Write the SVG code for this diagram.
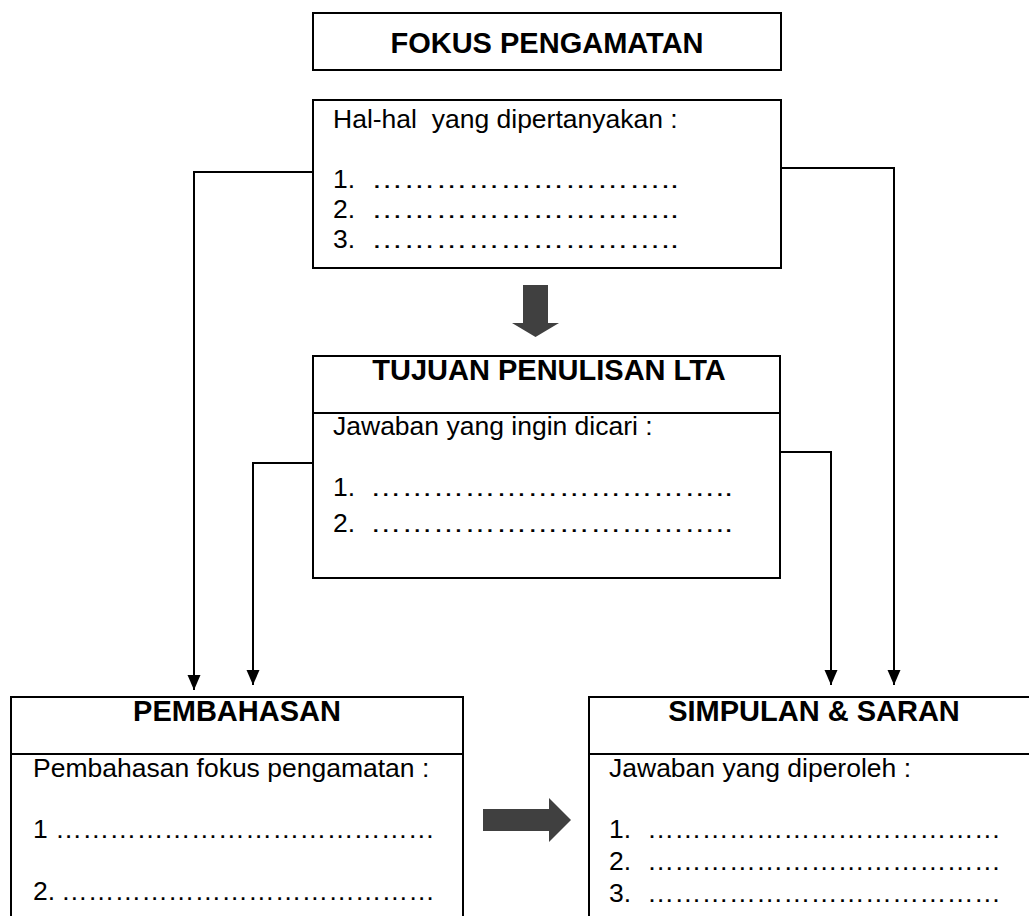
<svg xmlns="http://www.w3.org/2000/svg" width="1029" height="916" viewBox="0 0 1029 916">
<defs>
<style>
.box{fill:#fff;stroke:#000;stroke-width:2}
.sep{stroke:#000;stroke-width:2}
.t{font-family:"Liberation Sans",Arial,sans-serif;font-size:29px;font-weight:bold;fill:#000;text-anchor:middle}
.b{font-family:"Liberation Sans",Arial,sans-serif;font-size:26.5px;fill:#000}
.con{fill:none;stroke:#000;stroke-width:2}
.blk{fill:#404040}
</style>
<marker id="ah" markerUnits="userSpaceOnUse" markerWidth="16" markerHeight="14" refX="15" refY="7" orient="auto">
<path d="M0,0.5 L15,7 L0,13.5 z" fill="#000"/>
</marker>
</defs>
<rect width="1029" height="916" fill="#fff"/>

<g id="connectors">
<polyline class="con" points="313,172 194,172 194,690" marker-end="url(#ah)"/>
<polyline class="con" points="781,168 894,168 894,685" marker-end="url(#ah)"/>
<polyline class="con" points="313,463 253,463 253,685" marker-end="url(#ah)"/>
<polyline class="con" points="780,452 831,452 831,685" marker-end="url(#ah)"/>
<polygon class="blk" points="523,285 548,285 548,323 559,323 535.5,337 512,323 523,323"/>
<polygon class="blk" points="483,809 549,809 549,798 571,820 549,842 549,831 483,831"/>
</g>

<g id="fokus">
<rect class="box" x="313" y="13" width="468" height="57"/>
<text class="t" x="547" y="53">FOKUS PENGAMATAN</text>
</g>

<g id="hal">
<rect class="box" x="313" y="100" width="468" height="168"/>
<text class="b" x="333" y="128" xml:space="preserve">Hal-hal  yang dipertanyakan :</text>
<text class="b" x="333" y="188">1.<tspan x="371" textLength="308" lengthAdjust="spacingAndGlyphs">………………………..</tspan></text>
<text class="b" x="333" y="218">2.<tspan x="371" textLength="308" lengthAdjust="spacingAndGlyphs">………………………..</tspan></text>
<text class="b" x="333" y="248">3.<tspan x="371" textLength="308" lengthAdjust="spacingAndGlyphs">………………………..</tspan></text>
</g>

<g id="tujuan">
<rect class="box" x="313" y="356" width="467" height="222"/>
<line class="sep" x1="313" y1="413" x2="780" y2="413"/>
<text class="t" x="549" y="380">TUJUAN PENULISAN LTA</text>
<text class="b" x="333" y="435">Jawaban yang ingin dicari :</text>
<text class="b" x="333" y="496">1.<tspan x="370" textLength="363" lengthAdjust="spacingAndGlyphs">……………………………..</tspan></text>
<text class="b" x="333" y="532">2.<tspan x="370" textLength="363" lengthAdjust="spacingAndGlyphs">……………………………..</tspan></text>
</g>

<g id="pembahasan">
<rect class="box" x="11" y="697" width="452" height="240"/>
<line class="sep" x1="11" y1="754" x2="463" y2="754"/>
<text class="t" x="237" y="721">PEMBAHASAN</text>
<text class="b" x="33" y="777">Pembahasan fokus pengamatan :</text>
<text class="b" x="33" y="838">1<tspan x="55" textLength="380" lengthAdjust="spacingAndGlyphs">……………………………………</tspan></text>
<text class="b" x="33" y="900">2.<tspan x="61" textLength="374" lengthAdjust="spacingAndGlyphs">……………………………………</tspan></text>
</g>

<g id="simpulan">
<rect class="box" x="589" y="697" width="452" height="240"/>
<line class="sep" x1="589" y1="754" x2="1041" y2="754"/>
<text class="t" x="814" y="721">SIMPULAN &amp; SARAN</text>
<text class="b" x="609" y="777">Jawaban yang diperoleh :</text>
<text class="b" x="609" y="838">1.<tspan x="647" textLength="354" lengthAdjust="spacingAndGlyphs">…………………………………</tspan></text>
<text class="b" x="609" y="870">2.<tspan x="647" textLength="354" lengthAdjust="spacingAndGlyphs">…………………………………</tspan></text>
<text class="b" x="609" y="902">3.<tspan x="647" textLength="354" lengthAdjust="spacingAndGlyphs">…………………………………</tspan></text>
</g>
</svg>
